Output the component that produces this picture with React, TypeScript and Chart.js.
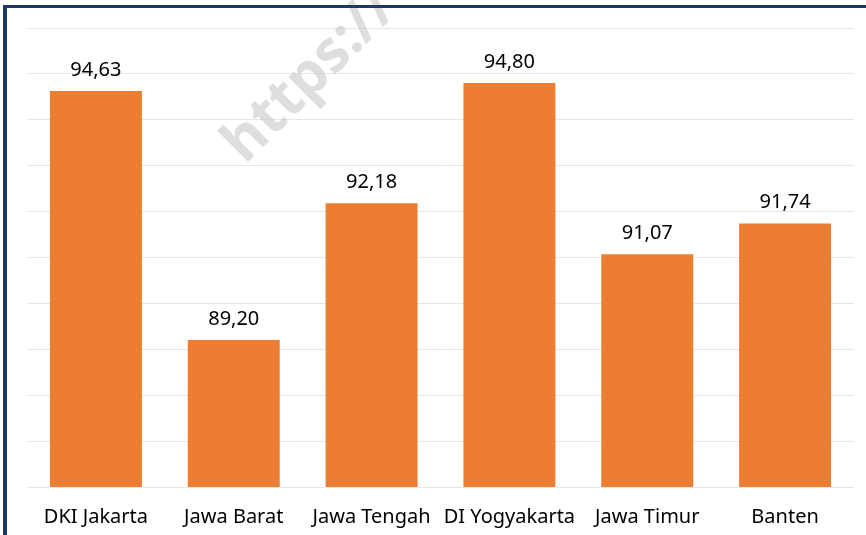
import React, { useEffect, useRef } from "react";
import { Chart, registerables } from "chart.js";

Chart.register(...registerables);

const categories = ["DKI Jakarta", "Jawa Barat", "Jawa Tengah", "DI Yogyakarta", "Jawa Timur", "Banten"];
const values = [94.63, 89.2, 92.18, 94.8, 91.07, 91.74];
const yMin = 86;
const yMax = 96;
const yStep = 1;
const watermark = "https://";

const fmt = (v: number) => v.toFixed(2).replace(".", ",");
const FONT = "'Noto Sans', 'Open Sans', sans-serif";

const labelPlugin = {
  id: "barLabels",
  afterDatasetsDraw(chart: any) {
    const ctx = chart.ctx;
    const meta = chart.getDatasetMeta(0);
    ctx.save();
    ctx.fillStyle = "#000";
    ctx.font = "20px " + FONT;
    ctx.textAlign = "center";
    ctx.textBaseline = "middle";
    meta.data.forEach((bar: any, i: number) => {
      ctx.fillText(fmt(values[i]), bar.x, bar.y - 21);
    });
    ctx.restore();
  },
};

const watermarkPlugin = {
  id: "watermark",
  beforeDatasetsDraw(chart: any) {
    const ctx = chart.ctx;
    ctx.save();
    ctx.translate(245, 165);
    ctx.rotate(-Math.PI / 4);
    ctx.fillStyle = "rgba(200,200,200,0.6)";
    ctx.font = "bold 58px 'Open Sans', sans-serif";
    ctx.textAlign = "left";
    ctx.textBaseline = "alphabetic";
    ctx.fillText(watermark, 0, 0);
    ctx.restore();
  },
};

export default function App() {
  const ref = useRef<HTMLCanvasElement>(null);
  useEffect(() => {
    document.body.style.margin = "0";
    const chart = new Chart(ref.current!, {
      type: "bar",
      data: {
        labels: categories,
        datasets: [
          {
            data: values,
            backgroundColor: "#ED7D31",
            barPercentage: 0.667,
            categoryPercentage: 1,
          },
        ],
      },
      options: {
        animation: false,
        responsive: false,
        maintainAspectRatio: false,
        layout: { padding: { left: 27, right: 12, top: 28, bottom: -4 } },
        plugins: { legend: { display: false }, tooltip: { enabled: false } },
        scales: {
          x: {
            grid: { display: false },
            border: { display: false },
            ticks: {
              color: "#000",
              font: { family: FONT, size: 20 },
              padding: 10,
              maxRotation: 0,
              autoSkip: false,
            },
          },
          y: {
            min: yMin,
            max: yMax,
            border: { display: false },
            grid: { color: "#e3e6ea", lineWidth: 1, drawTicks: false },
            ticks: { display: false, stepSize: yStep },
          },
        },
      },
      plugins: [watermarkPlugin, labelPlugin],
    });
    return () => chart.destroy();
  }, []);
  return (
    <div style={{ position: "relative", width: 866, height: 535, background: "#fff", overflow: "hidden" }}>
      <canvas ref={ref} width={866} height={535} style={{ position: "absolute", left: 0, top: 0 }} />
      <div
        style={{
          position: "absolute",
          left: 3,
          top: 5,
          right: 0,
          bottom: 0,
          borderTop: "3px solid #1F3864",
          borderLeft: "4px solid #1F3864",
          pointerEvents: "none",
        }}
      />
    </div>
  );
}
